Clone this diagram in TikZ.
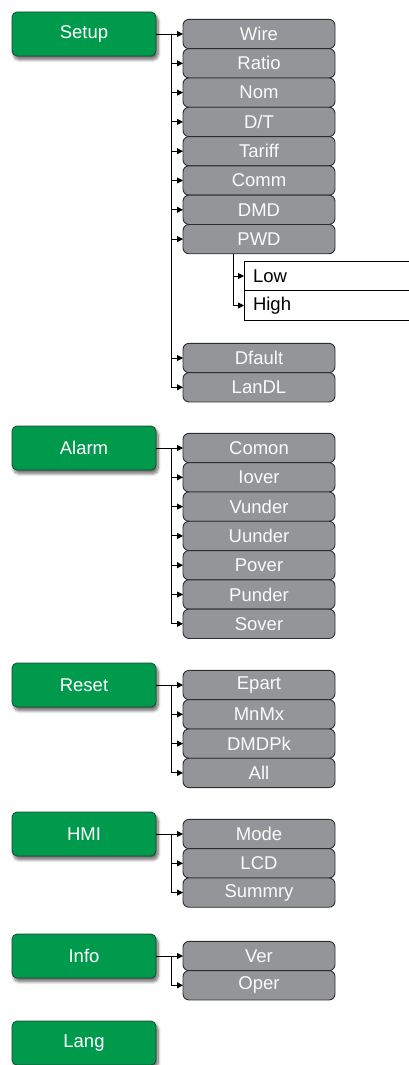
\documentclass[tikz,border=0pt]{standalone}
\usepackage{fontspec}
\setmainfont{Liberation Sans}
\usetikzlibrary{positioning, arrows.meta, shadows.blur}
\definecolor{menugreen}{RGB}{0,154,76}
\definecolor{entrygray}{RGB}{147,149,152}
\definecolor{edgegray}{RGB}{45,45,45}

\begin{document}
\begin{tikzpicture}[
    x=1pt, y=1pt,
    menubox/.style   = {rectangle, rounded corners=5pt, draw=edgegray!80!menugreen, line width=0.8pt, fill=menugreen, text=white, minimum width=144pt, minimum height=44pt, outer sep=0pt, font=\fontsize{18.5}{20}\selectfont, blur shadow={shadow xshift=2pt, shadow yshift=-3.5pt, shadow blur radius=3pt, shadow blur steps=8, shadow opacity=60}},
    entrybox/.style  = {rectangle, rounded corners=6pt, draw=edgegray, line width=0.9pt, fill=entrygray, text=white!95!entrygray, minimum width=152pt, minimum height=29.3pt, outer sep=0pt, inner sep=0pt, font=\fontsize{18.5}{20}\selectfont},
    choicebox/.style = {rectangle, draw=black, line width=0.9pt, fill=white, text width=150pt, inner xsep=9pt, inner ysep=0pt, align=left, minimum height=29.5pt, outer sep=0pt, font=\fontsize{18.5}{20}\selectfont},
    arrow/.style     = {-{Triangle[length=6pt, width=6pt]}, line width=0.9pt},
    node distance    = 0pt
]
\useasboundingbox (0,0) rectangle (409,-1065);

% Setup
\node[menubox]                  (setup)  at (84,-34)  {Setup};
\node[entrybox]                 (wire)   at (259,-34) {Wire};
\node[entrybox, below=of wire]  (ratio)  {Ratio};
\node[entrybox, below=of ratio] (nom)    {Nom};
\node[entrybox, below=of nom]   (dt)     {D/T};
\node[entrybox, below=of dt]    (tariff) {Tariff};
\node[entrybox, below=of tariff] (comm)  {Comm};
\node[entrybox, below=of comm]  (dmd)    {DMD};
\node[entrybox, below=of dmd]   (pwd)    {PWD};
\node[choicebox]                (low)    at (328,-276) {Low};
\node[choicebox, below=of low]  (high)   {High};
\node[entrybox]                 (dfault) at (259,-358) {Dfault};
\node[entrybox, below=of dfault] (landl) {LanDL};
\coordinate (jsetup) at (171,-34);
\coordinate (jpwd)   at ([xshift=-26pt]pwd.south);
\draw[arrow] (setup) -- (wire);
\foreach \n in {ratio, nom, dt, tariff, comm, dmd, pwd, dfault, landl}
  \draw[arrow] (jsetup) |- (\n);
\foreach \n in {low, high}
  \draw[arrow] (jpwd) |- (\n);

% Alarm
\node[menubox]                   (alarm)  at (84,-448)  {Alarm};
\node[entrybox]                  (comon)  at (259,-448) {Comon};
\node[entrybox, below=of comon]  (iover)  {Iover};
\node[entrybox, below=of iover]  (vunder) {Vunder};
\node[entrybox, below=of vunder] (uunder) {Uunder};
\node[entrybox, below=of uunder] (pover)  {Pover};
\node[entrybox, below=of pover]  (punder) {Punder};
\node[entrybox, below=of punder] (sover)  {Sover};
\coordinate (jalarm) at (171,-448);
\draw[arrow] (alarm) -- (comon);
\foreach \n in {iover, vunder, uunder, pover, punder, sover}
  \draw[arrow] (jalarm) |- (\n);

% Reset
\node[menubox]                  (reset) at (84,-685)  {Reset};
\node[entrybox]                 (epart) at (259,-685) {Epart};
\node[entrybox, below=of epart] (mnmx)  {MnMx};
\node[entrybox, below=of mnmx]  (dmdpk) {DMDPk};
\node[entrybox, below=of dmdpk] (all)   {All};
\coordinate (jreset) at (171,-685);
\draw[arrow] (reset) -- (epart);
\foreach \n in {mnmx, dmdpk, all}
  \draw[arrow] (jreset) |- (\n);

% HMI
\node[menubox]                 (hmi)    at (84,-834)  {HMI};
\node[entrybox]                (mode)   at (259,-834) {Mode};
\node[entrybox, below=of mode] (lcd)    {LCD};
\node[entrybox, below=of lcd]  (summry) {Summry};
\coordinate (jhmi) at (171,-834);
\draw[arrow] (hmi) -- (mode);
\foreach \n in {lcd, summry}
  \draw[arrow] (jhmi) |- (\n);

% Info
\node[menubox]                (info) at (84,-956)  {Info};
\node[entrybox]               (ver)  at (259,-956) {Ver};
\node[entrybox, below=of ver] (oper) {Oper};
\coordinate (jinfo) at (171,-956);
\draw[arrow] (info) -- (ver);
\draw[arrow] (jinfo) |- (oper);

% Lang
\node[menubox] (lang) at (84,-1043) {Lang};
\end{tikzpicture}
\end{document}
